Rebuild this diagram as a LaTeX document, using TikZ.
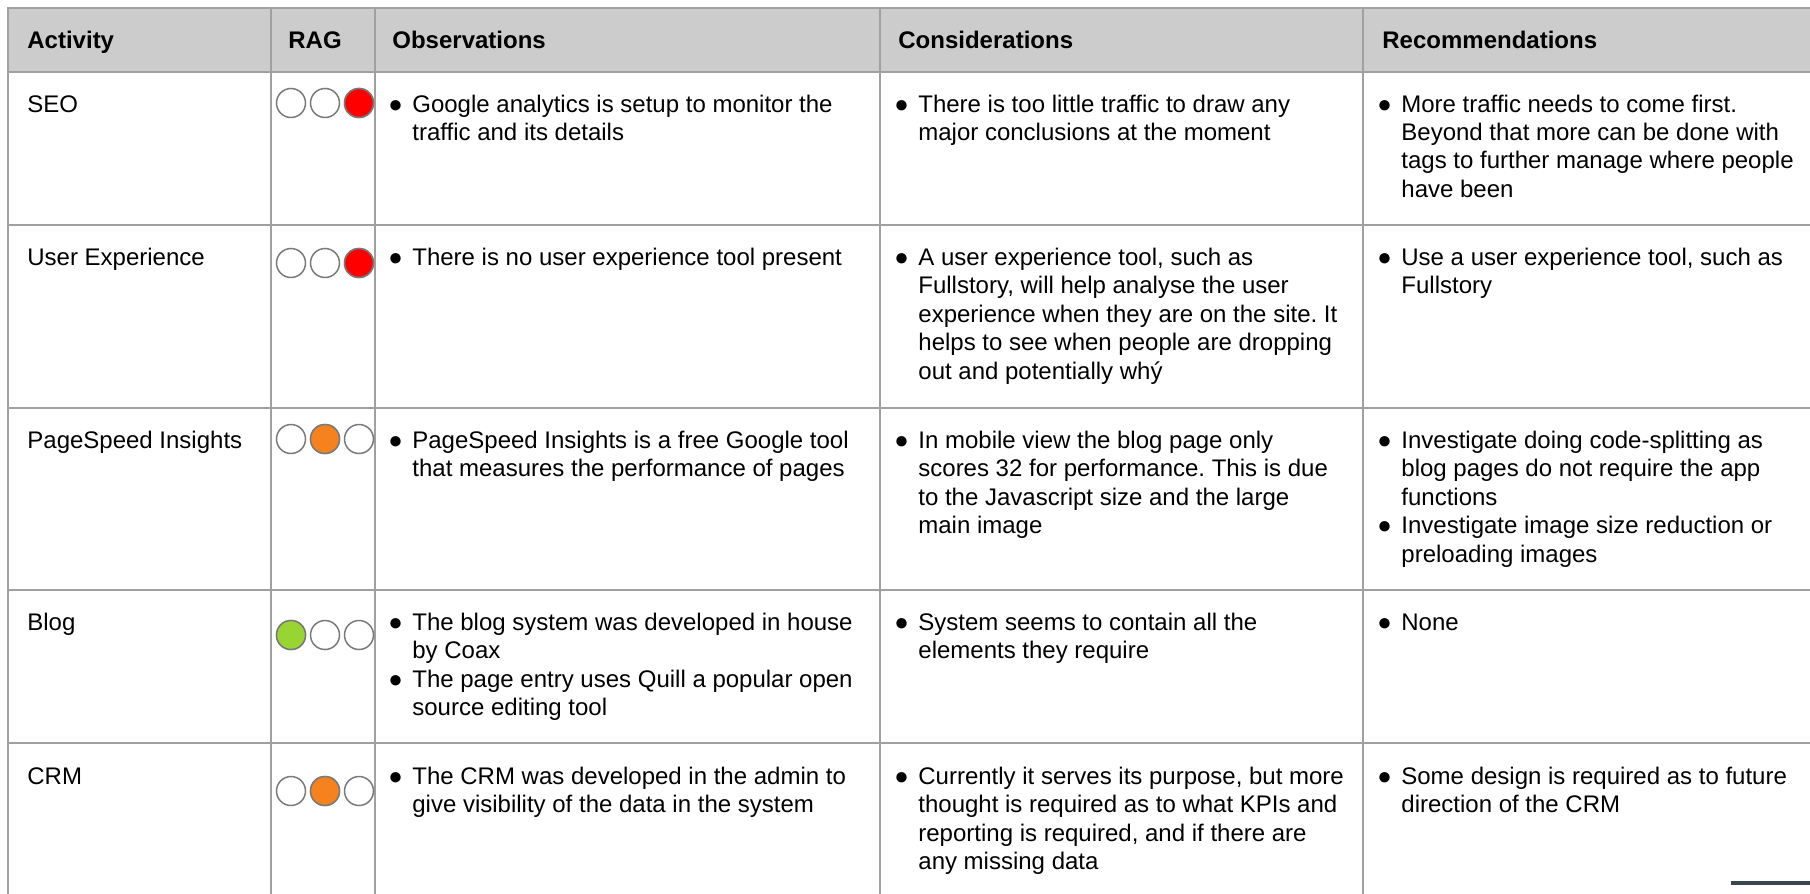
\documentclass[tikz,border=0pt]{standalone}
\usepackage{fontspec}
\setmainfont{Liberation Sans}
\usepackage{array}
\frenchspacing

\definecolor{tablegray}{HTML}{A0A0A0}
\definecolor{headgray}{HTML}{CCCCCC}
\definecolor{lampedge}{HTML}{7A7A7A}
\definecolor{ragred}{HTML}{FF0000}
\definecolor{ragamber}{HTML}{F5821F}
\definecolor{raggreen}{HTML}{99D532}
\definecolor{barslate}{HTML}{37474F}

% bullet list inside a cell, first line on the node baseline
\newcommand{\blt}{\makebox[12pt][l]{●}}
\newcommand{\notes}[1]{\begin{tabular}[t]{@{}l@{}l@{}}#1\end{tabular}}

\begin{document}
\begin{tikzpicture}[
            x = 0.5pt, y = -0.5pt, % one unit per pixel, y going down
            font = \fontsize{12}{14.25}\selectfont,
            every node/.style = {inner sep = 0pt}
        ]

        \tikzstyle{head} = [anchor = base west, font = \fontsize{12}{14.25}\selectfont\bfseries]
        \tikzstyle{cell} = [anchor = base west]
        \tikzstyle{gridline} = [draw = tablegray, line width = 0.85pt]
        \tikzstyle{lamp} = [
            circle,
            draw = lampedge,
            line width = 0.75pt,
            fill = white,
            minimum size = 14.5pt
        ]

        \useasboundingbox (0,0) rectangle (1810,894);

        % header band and rules
        \fill[headgray] (8,8) rectangle (1810,72);
        \foreach \y in {72, 225, 408, 590, 743}
            \draw[gridline] (8,\y) -- (1810,\y);
        \foreach \x in {271, 375, 880, 1363}
            \draw[gridline] (\x,8) -- (\x,894);
        \draw[gridline] (1810,8) -- (8,8) -- (8,894);

        \node[head] (ACT) at (27,48) {Activity};
        \node[head] (RAG) at (288,48) {RAG};
        \node[head] (OBS) at (392,48) {Observations};
        \node[head] (CON) at (898,48) {Considerations};
        \node[head] (REC) at (1382,48) {Recommendations};

        % traffic lights
        \foreach \row/\y/\k/\c in {SEO/103/3/ragred, UX/263/3/ragred, PSI/439/2/ragamber, BLOG/635/1/raggreen, CRM/791/2/ragamber} {
            \foreach \i/\x in {1/291, 2/325, 3/359}
                \node[lamp] (\row-\i) at (\x,\y) {};
            \node[lamp, fill = \c] (\row-lit) at (\row-\k) {};
        }

        % SEO
        \node[cell] (SEO) at (27,112) {SEO};
        \node[cell] (SEOobs) at (388,112) {\notes{\blt & Google analytics is setup to monitor the\\ & traffic and its details}};
        \node[cell] (SEOcon) at (894,112) {\notes{\blt & There is too little traffic to draw any\\ & major conclusions at the moment}};
        \node[cell] (SEOrec) at (1377,112) {\notes{\blt & More traffic needs to come first.\\ & Beyond that more can be done with\\ & tags to further manage where people\\ & have been}};

        % User Experience
        \node[cell] (UX) at (27,265) {User Experience};
        \node[cell] (UXobs) at (388,265) {\notes{\blt & There is no user experience tool present}};
        \node[cell] (UXcon) at (894,265) {\notes{\blt & A user experience tool, such as\\ & Fullstory, will help analyse the user\\ & experience when they are on the site. It\\ & helps to see when people are dropping\\ & out and potentially whý}};
        \node[cell] (UXrec) at (1377,265) {\notes{\blt & Use a user experience tool, such as\\ & Fullstory}};

        % PageSpeed Insights
        \node[cell] (PSI) at (27,448) {PageSpeed Insights};
        \node[cell] (PSIobs) at (388,448) {\notes{\blt & PageSpeed Insights is a free Google tool\\ & that measures the performance of pages}};
        \node[cell] (PSIcon) at (894,448) {\notes{\blt & In mobile view the blog page only\\ & scores 32 for performance. This is due\\ & to the Javascript size and the large\\ & main image}};
        \node[cell] (PSIrec) at (1377,448) {\notes{\blt & Investigate doing code-splitting as\\ & blog pages do not require the app\\ & functions\\ \blt & Investigate image size reduction or\\ & preloading images}};

        % Blog
        \node[cell] (BLOG) at (27,630) {Blog};
        \node[cell] (BLOGobs) at (388,630) {\notes{\blt & The blog system was developed in house\\ & by Coax\\ \blt & The page entry uses Quill a popular open\\ & source editing tool}};
        \node[cell] (BLOGcon) at (894,630) {\notes{\blt & System seems to contain all the\\ & elements they require}};
        \node[cell] (BLOGrec) at (1377,630) {\notes{\blt & None}};

        % CRM
        \node[cell] (CRM) at (27,784) {CRM};
        \node[cell] (CRMobs) at (388,784) {\notes{\blt & The CRM was developed in the admin to\\ & give visibility of the data in the system}};
        \node[cell] (CRMcon) at (894,784) {\notes{\blt & Currently it serves its purpose, but more\\ & thought is required as to what KPIs and\\ & reporting is required, and if there are\\ & any missing data}};
        \node[cell] (CRMrec) at (1377,784) {\notes{\blt & Some design is required as to future\\ & direction of the CRM}};

        % scroll bar stub in the corner
        \fill[barslate] (1731,881) rectangle (1810,885);

    \end{tikzpicture}
\end{document}
